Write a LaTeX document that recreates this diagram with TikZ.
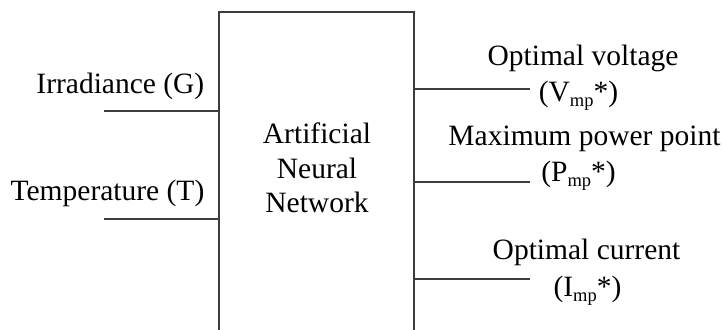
\documentclass[tikz,border=0pt]{standalone}
\usepackage{fontspec}
\setmainfont{Liberation Serif}
\newcommand{\lowsub}[1]{\raisebox{-5pt}{\fontsize{18.5}{18.5}\selectfont #1}}
\definecolor{wiregray}{HTML}{3C3C3C}
\begin{document}
\begin{tikzpicture}[x=1pt,y=-1pt,
  wire/.style={draw=wiregray,line width=2pt},
  annbox/.style={draw=wiregray,line width=2.2pt,rectangle,inner sep=0pt,
    minimum width=195.3pt,minimum height=330pt},
  lbl/.style={font=\fontsize{29.5}{34.5}\selectfont,inner sep=0pt,text=black}]
\clip (0,0) rectangle (722,329);
\fill[white] (0,0) rectangle (722,329);

% network block (runs past the lower edge)
\node[annbox] (ann) at (316.7,177) {};
\node[lbl,align=center] (annlabel) at (317,168) {Artificial\\Neural\\Network};

% inputs
\node[lbl,anchor=base east] (glabel) at (204.5,93.3) {Irradiance (G)};
\node[lbl,anchor=base east] (tlabel) at (204.5,200.5) {Temperature (T)};
\coordinate (gin) at (104,110.7);
\coordinate (tin) at (104,219.3);
\draw[wire] (gin) -- (gin -| ann.west);
\draw[wire] (tin) -- (tin -| ann.west);

% outputs
\coordinate (vout) at (530,89.3);
\coordinate (pout) at (530,181.7);
\coordinate (iout) at (530,278.7);
\draw[wire] (ann.east |- vout) -- (vout);
\draw[wire] (ann.east |- pout) -- (pout);
\draw[wire] (ann.east |- iout) -- (iout);

\node[lbl,anchor=base] (vname) at (583,65) {Optimal voltage};
\node[lbl,anchor=base] (vsym) at (578.5,101.5) {(V\lowsub{mp}*)};
\node[lbl,anchor=base] (pname) at (584.5,145) {Maximum power point};
\node[lbl,anchor=base] (psym) at (578.5,181.7) {(P\lowsub{mp}*)};
\node[lbl,anchor=base] (iname) at (586.5,259) {Optimal current};
\node[lbl,anchor=base] (isym) at (587.5,296.7) {(I\lowsub{mp}*)};
\end{tikzpicture}
\end{document}
